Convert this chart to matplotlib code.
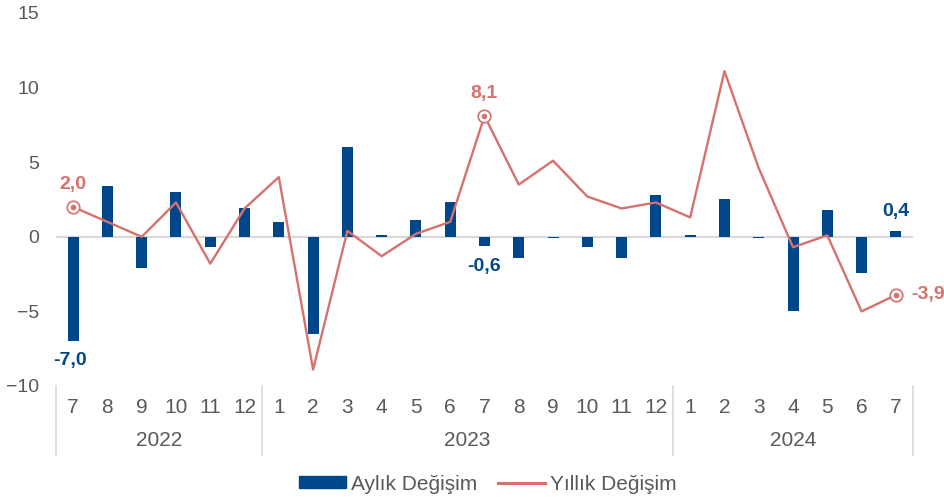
import matplotlib
matplotlib.use("Agg")
import matplotlib.pyplot as plt
import matplotlib.transforms as mtransforms
from matplotlib.lines import Line2D
from matplotlib.patches import Patch

# veriler
months = ["7", "8", "9", "10", "11", "12",
          "1", "2", "3", "4", "5", "6", "7", "8", "9", "10", "11", "12",
          "1", "2", "3", "4", "5", "6", "7"]
years = ["2022", "2023", "2024"]
year_counts = [6, 12, 7]

aylik = [-7.0, 3.4, -2.1, 3.0, -0.7, 1.9,
         1.0, -6.5, 6.0, 0.1, 1.1, 2.3, -0.6, -1.4, -0.1, -0.7, -1.4, 2.8,
         0.1, 2.5, -0.1, -5.0, 1.8, -2.4, 0.4]
yillik = [2.0, 1.0, 0.0, 2.3, -1.8, 1.9,
          4.0, -8.9, 0.4, -1.3, 0.2, 1.0, 8.1, 3.5, 5.1, 2.7, 1.9, 2.3,
          1.3, 11.1, 4.6, -0.7, 0.1, -5.0, -3.9]

blue = "#00468b"
red = "#d6716c"
gray = "#595959"

plt.rcParams['font.family'] = ['Liberation Sans', 'DejaVu Sans']

fig = plt.figure(figsize=(9.44, 4.97), dpi=100)
ax = fig.add_axes([56 / 944, 1 - 386 / 497, 857 / 944, 373 / 497])

x = list(range(len(months)))
ax.axhline(0, color="#d9d9d9", lw=1.6, zorder=1)
ax.bar(x, aylik, width=0.32, color=blue, zorder=2)
ax.plot(x, yillik, color=red, lw=1.7, zorder=3)

# işaretli noktalar
for i in [0, 12, 24]:
    ax.plot(x[i], yillik[i], marker="o", ms=9, mfc="white", mec=red, mew=1.2, zorder=4, clip_on=False)
    ax.plot(x[i], yillik[i], marker="o", ms=3, color=red, zorder=5, clip_on=False)

def fmt(v):
    return f"{v:.1f}".replace(".", ",")

# etiketler
lbl = dict(textcoords="offset points", va="center", fontsize=14, fontweight="bold",
           annotation_clip=False)
ax.annotate(fmt(yillik[0]), (x[0], yillik[0]), xytext=(0, 16), ha="center", color=red, **lbl)
ax.annotate(fmt(yillik[12]), (x[12], yillik[12]), xytext=(0, 16), ha="center", color=red, **lbl)
ax.annotate(fmt(yillik[24]), (x[24], yillik[24]), xytext=(11, 0), ha="left", color=red, **lbl)
ax.annotate(fmt(aylik[0]), (x[0], aylik[0]), xytext=(-2, -14), ha="center", color=blue, **lbl)
ax.annotate(fmt(aylik[12]), (x[12], aylik[12]), xytext=(0, -15), ha="center", color=blue, **lbl)
ax.annotate(fmt(aylik[24]), (x[24], aylik[24]), xytext=(0, 14), ha="center", color=blue, **lbl)

ax.set_xlim(-0.5, len(months) - 0.5)
ax.set_ylim(-10, 15)
ax.set_yticks([-10, -5, 0, 5, 10, 15])
ax.tick_params(axis="y", length=0, pad=12, labelsize=14, labelcolor=gray)
ax.set_xticks([])
for s in ax.spines.values():
    s.set_visible(False)

# çok seviyeli x ekseni
trans = mtransforms.blended_transform_factory(ax.transData, ax.transAxes)
for i, m in enumerate(months):
    ax.text(i, -0.058, m, transform=trans, ha="center", va="center", fontsize=15, color=gray)
start = 0
bounds = [-0.5]
for yr, n in zip(years, year_counts):
    ax.text(start + (n - 1) / 2, -0.147, yr, transform=trans, ha="center", va="center",
            fontsize=15, color=gray)
    start += n
    bounds.append(start - 0.5)
for b in bounds:
    ax.plot([b, b], [0, -0.185], transform=trans, color="#d9d9d9", lw=1.2, clip_on=False)

handles = [Patch(color=blue), Line2D([0], [0], color=red, lw=2.2)]
fig.legend(handles, ["Aylık Değişim", "Yıllık Değişim"], loc="center",
           bbox_to_anchor=(488 / 944, 1 - 484 / 497), ncol=2, frameon=False,
           fontsize=15, labelcolor=gray, handlelength=2.25, handleheight=0.5,
           handletextpad=0.25, columnspacing=1.0)

fig.savefig("out.png", dpi=100)
